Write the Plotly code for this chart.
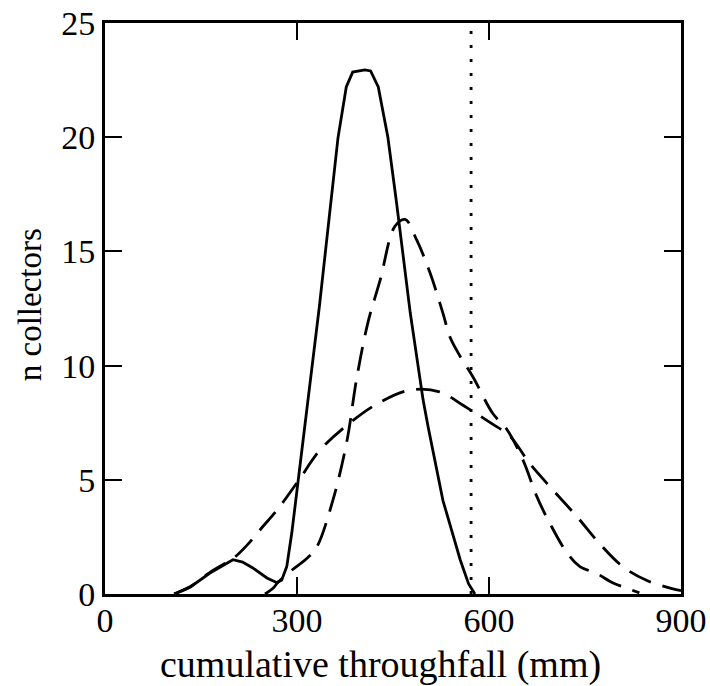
import plotly.graph_objects as go

# --- data ---
solid_x = [108, 133, 164, 184, 200, 215, 231, 253, 268, 276, 284, 292, 302, 316, 335, 364, 377, 387, 406, 415, 427, 442, 455, 477, 497, 505, 528, 555, 568, 578]
solid_y = [0, 0.3, 0.92, 1.23, 1.5, 1.4, 1.14, 0.7, 0.5, 0.6, 1.2, 2.7, 5.0, 8.2, 12.6, 19.96, 22.2, 22.85, 22.95, 22.9, 22.2, 20.0, 17.25, 12.3, 8.5, 7.3, 4.1, 1.5, 0.45, 0]

wide_x = [108, 133, 164, 184, 200, 222, 245, 269, 302, 336, 383, 430, 477, 523, 560, 602, 633, 664, 700, 737, 773, 809, 846, 883, 900]
wide_y = [0, 0.32, 0.95, 1.28, 1.55, 2.14, 2.9, 3.68, 4.95, 6.3, 7.5, 8.4, 8.93, 8.85, 8.25, 7.5, 6.9, 5.7, 4.55, 3.4, 2.2, 1.2, 0.6, 0.26, 0.15]

mid_x = [250, 263, 270, 290, 317, 331, 356, 378, 393, 411, 430, 453, 469, 487, 508, 528, 539, 555, 575, 606, 628, 653, 675, 695, 722, 742, 768, 794, 815, 835]
mid_y = [0, 0.26, 0.5, 1.0, 1.6, 2.06, 4.1, 6.7, 9.4, 11.9, 13.75, 16.1, 16.4, 15.5, 14.05, 12.3, 11.25, 10.4, 9.5, 7.9, 7.2, 5.87, 4.25, 3.1, 1.8, 1.2, 0.9, 0.48, 0.26, 0.05]

ref_x = 572  # dotted vertical reference line

x_ticks = [0, 300, 600, 900]
y_ticks = [0, 5, 10, 15, 20, 25]

FONT = "Liberation Serif"

fig = go.Figure()
fig.add_trace(go.Scatter(x=[ref_x, ref_x], y=[0, 25], mode="lines",
                         line=dict(color="black", width=2.8, dash="3px,11px")))
fig.add_trace(go.Scatter(x=wide_x, y=wide_y, mode="lines", line_shape="spline",
                         line=dict(color="black", width=2.8, dash="24px,12px")))
fig.add_trace(go.Scatter(x=mid_x, y=mid_y, mode="lines", line_shape="spline",
                         line=dict(color="black", width=2.8, dash="24px,12px")))
fig.add_trace(go.Scatter(x=solid_x, y=solid_y, mode="lines",
                         line=dict(color="black", width=2.8)))

axis_common = dict(showgrid=False, zeroline=False, showline=True, linecolor="black",
                   linewidth=2.8, mirror="ticks", ticks="inside", ticklen=17,
                   tickwidth=2.2, tickcolor="black", ticklabeloverflow="allow",
                   tickfont=dict(family=FONT, size=34, color="black"))

fig.update_xaxes(range=[0, 900], tickvals=x_ticks, ticktext=[str(v) for v in x_ticks],
                 ticklabelstandoff=-6, **axis_common)
fig.update_yaxes(range=[0, 25], tickvals=y_ticks, ticktext=[str(v) for v in y_ticks], **axis_common)

fig.add_annotation(text="cumulative throughfall (mm)", xref="paper", yref="paper",
                   x=0.479, y=-0.124, showarrow=False, xanchor="center", yanchor="middle",
                   font=dict(family=FONT, size=38, color="black"))
fig.add_annotation(text="n collectors", xref="paper", yref="paper",
                   x=-0.130, y=0.506, showarrow=False, textangle=-90,
                   xanchor="center", yanchor="middle",
                   font=dict(family=FONT, size=33, color="black"))

fig.update_layout(width=710, height=686, showlegend=False, autosize=False,
                  margin=dict(l=105, r=29, t=23, b=92, autoexpand=False),
                  plot_bgcolor="white", paper_bgcolor="white")

# remove the default 8px page margin so the figure fills the window exactly
fig.write_html("out.html", post_script="document.body.style.margin='0';",
               config={"displayModeBar": False})
